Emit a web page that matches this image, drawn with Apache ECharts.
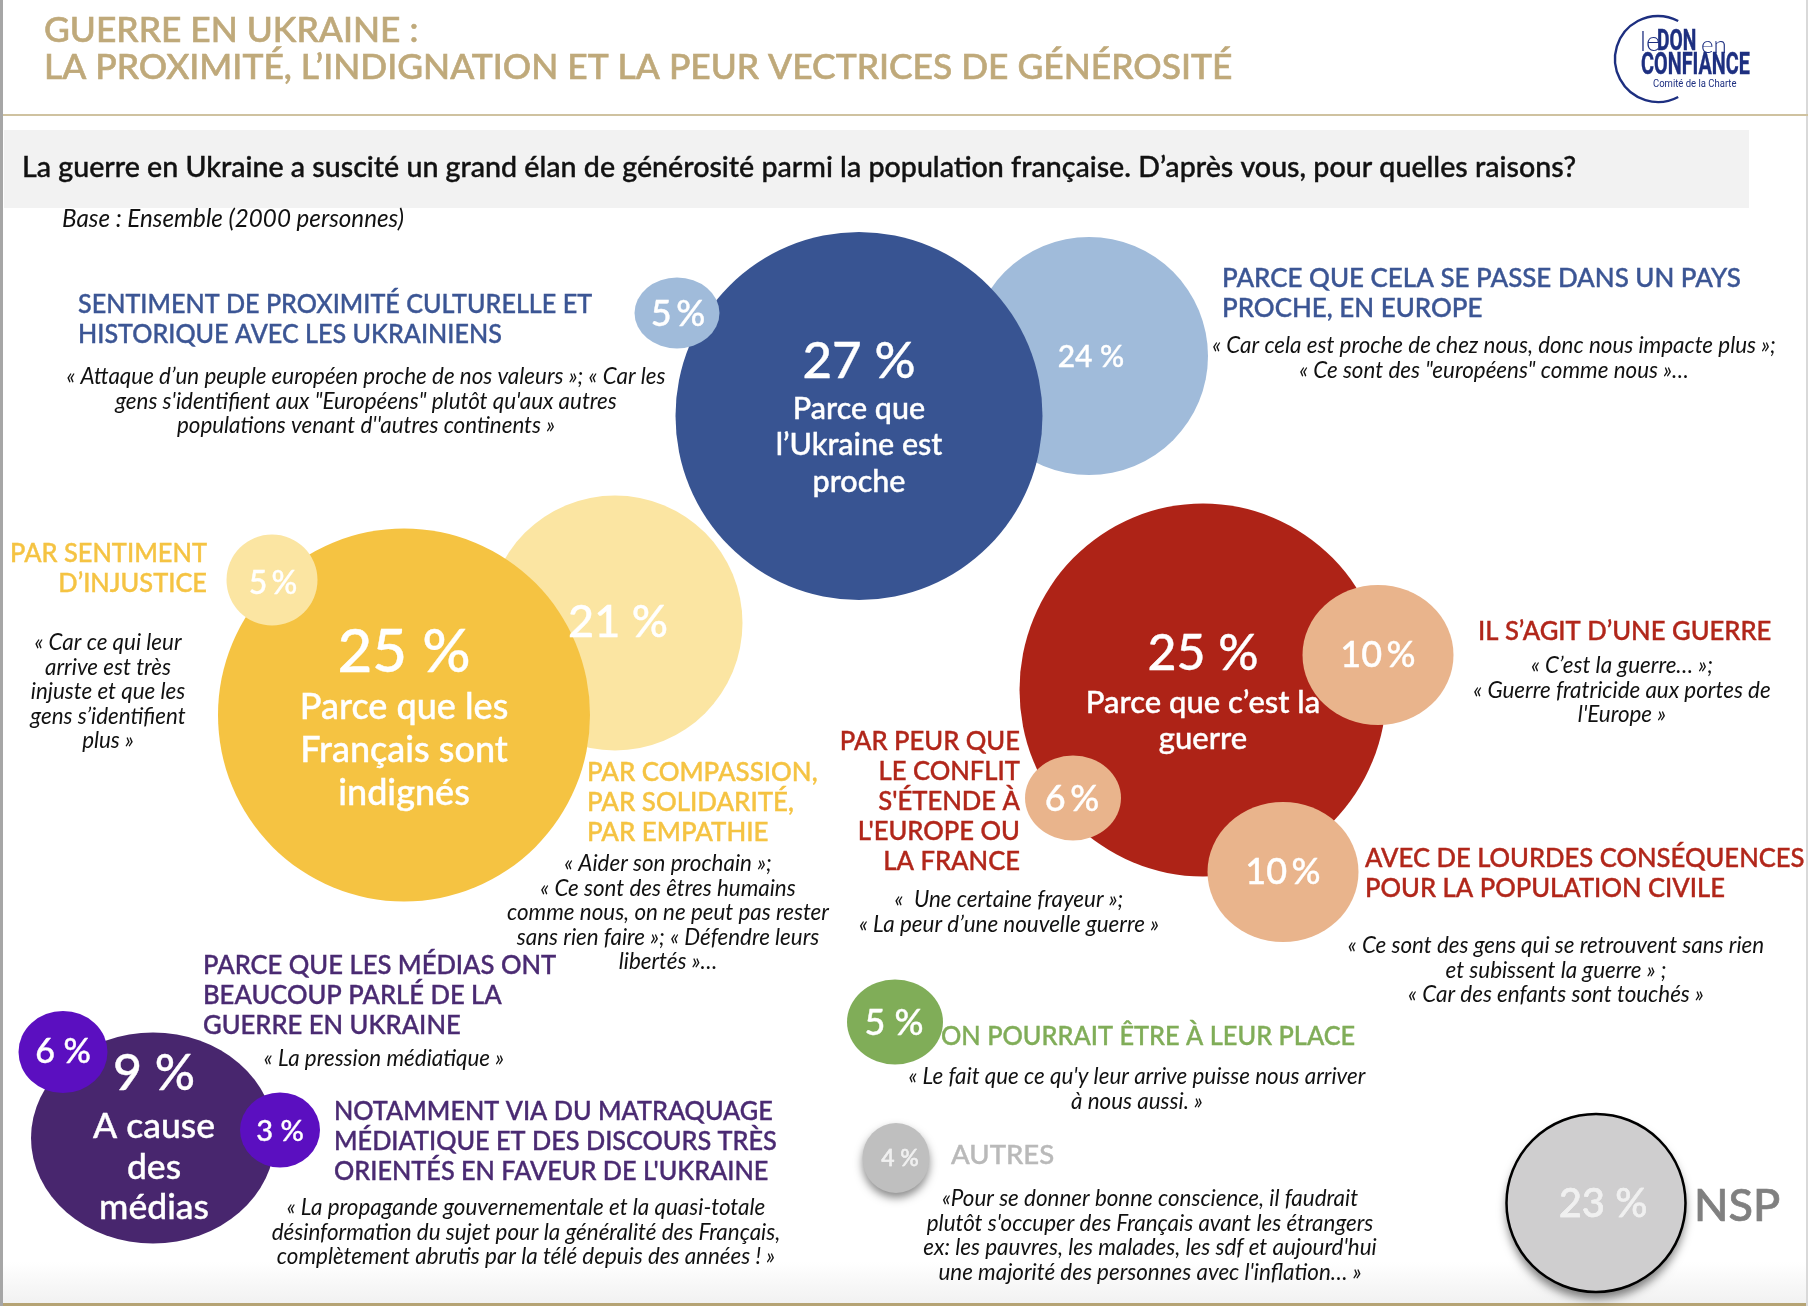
<!DOCTYPE html>
<html>
<head>
<meta charset="utf-8">
<title>Guerre en Ukraine</title>
<script src="https://cdn.jsdelivr.net/npm/echarts@6/dist/echarts.min.js"></script>
<style>
html,body{margin:0;padding:0;background:#fff}
#main{width:1808px;height:1306px}
</style>
</head>
<body>
<div id="main"></div>
<script>
// bubble values, in draw order
var bubbleNames=["Pays proche, en Europe","Parce que l'Ukraine est proche","Proximité culturelle et historique",
	"Compassion, solidarité, empathie","Parce que les Français sont indignés","Sentiment d'injustice",
	"Parce que c'est la guerre","Il s'agit d'une guerre","Peur que le conflit s'étende","Lourdes conséquences",
	"A cause des médias","Les médias ont beaucoup parlé","Matraquage médiatique",
	"On pourrait être à leur place","Autres","NSP"];
var bubbleValues=[24,27,5,21,25,5,25,10,6,10,9,6,3,5,4,23];

// layout of the bubbles, same order: centre x, centre y, width, height
var bubbleX=[1089,859,677,615,404,272,1203,1378,1073,1283,153,63,280,895,896,1596];
var bubbleY=[356,416,313,623,715,580,690,655,798,872,1138,1052,1130,1022,1158,1203];
var bubbleW=[238,367,85,255,372,91,367,151,96,151,244,89,80,96,67,179];
var bubbleH=[238,368,71,255,373,91,373,140,85,140,211,82,75,85,70,178];
var bubbleColors=["#a0bbda","#385492","#a0bbda","#fbe5a2","#f5c342","#fbe5a2","#ae2317","#e9b48c","#e9b48c","#e9b48c",
	"#48266e","#5b0fc0","#5b0fc0","#80ad58","#bfbfbf","#cfcecf"];
// value label: offset from bubble centre, font size, gap before the % sign
var labelDX=[2,0,1,3,0,1,0,0,-1,0,1,0,0,-1,4,7];
var labelDY=[1,-54,1,-1,-62,4,-36,0,1,0,-64,0,2,1,1,1];
var labelSize=[30,51,36,45,60,32,50,36,36,36,50,34,29,36,23,40];
var labelGap=[' ',' ','\u2009',' ',' ','\u2009',' ','\u2009','\u2009','\u2009',' ',' ',' ',' ',' ',' '];

var titleText="GUERRE EN UKRAINE :\nLA PROXIMITÉ, L’INDIGNATION ET LA PEUR VECTRICES DE GÉNÉROSITÉ";
var questionText="La guerre en Ukraine a suscité un grand élan de générosité parmi la population française. D’après vous, pour quelles raisons?";
var baseText="Base : Ensemble (2000 personnes)";

var captions=["Parce que\nl’Ukraine est\nproche","Parce que les\nFrançais sont\nindignés","Parce que c’est la\nguerre","A cause\ndes\nmédias"];
var headings=["SENTIMENT DE PROXIMITÉ CULTURELLE ET\nHISTORIQUE AVEC LES UKRAINIENS",
	"PARCE QUE CELA SE PASSE DANS UN PAYS\nPROCHE, EN EUROPE",
	"PAR SENTIMENT\nD’INJUSTICE",
	"PAR COMPASSION,\nPAR SOLIDARITÉ,\nPAR EMPATHIE",
	"PAR PEUR QUE\nLE CONFLIT\nS'ÉTENDE À\nL'EUROPE OU\nLA FRANCE",
	"IL S’AGIT D’UNE GUERRE",
	"AVEC DE LOURDES CONSÉQUENCES\nPOUR LA POPULATION CIVILE",
	"PARCE QUE LES MÉDIAS ONT\nBEAUCOUP PARLÉ DE LA\nGUERRE EN UKRAINE",
	"NOTAMMENT VIA DU MATRAQUAGE\nMÉDIATIQUE ET DES DISCOURS TRÈS\nORIENTÉS EN FAVEUR DE L'UKRAINE",
	"ON POURRAIT ÊTRE À LEUR PLACE",
	"AUTRES"];
var quotes=["« Attaque d’un peuple européen proche de nos valeurs »; « Car les\ngens s'identifient aux \"Européens\" plutôt qu'aux autres\npopulations venant d''autres continents »",
	"« Car cela est proche de chez nous, donc nous impacte plus »;\n« Ce sont des \"européens\" comme nous »…",
	"« Car ce qui leur\narrive est très\ninjuste et que les\ngens s’identifient\nplus »",
	"« Aider son prochain »;\n« Ce sont des êtres humains\ncomme nous, on ne peut pas rester\nsans rien faire »; « Défendre leurs\nlibertés »…",
	"«  Une certaine frayeur »;\n« La peur d’une nouvelle guerre »",
	"« C’est la guerre… »;\n« Guerre fratricide aux portes de\nl'Europe »",
	"« Ce sont des gens qui se retrouvent sans rien\net subissent la guerre » ;\n« Car des enfants sont touchés »",
	"« La pression médiatique »",
	"« La propagande gouvernementale et la quasi-totale\ndésinformation du sujet pour la généralité des Français,\ncomplètement abrutis par la télé depuis des années ! »",
	"« Le fait que ce qu'y leur arrive puisse nous arriver\nà nous aussi. »",
	"«Pour se donner bonne conscience, il faudrait\nplutôt s'occuper des Français avant les étrangers\nex: les pauvres, les malades, les sdf et aujourd'hui\nune majorité des personnes avec l'inflation… »"];

// layout of the texts: x, y of first line centre, anchor
var captionPos=[[859,409],[404,707],[1203,703],[154,1127]];
var captionStyle=[[30.5,36.5],[36,43],[31,36],[35.5,40.5]];
var headingPos=[[78,304.5,'left'],[1222,278.5,'left'],[207,554,'right'],[587,773,'left'],[1020,742,'right'],[1478,632,'left'],
	[1365,858.5,'left'],[203,965.5,'left'],[334,1111.5,'left'],[941,1037,'left'],[951,1156,'left']];
var headingScale=[0.967,0.998,0.977,0.995,0.985,0.985,0.985,0.984,0.972,0.975,1.06];
var headingColors=["#3b5594","#3b5594","#f5c342","#f5c342","#b1261a","#b1261a","#b1261a","#4a2a72","#4a2a72","#80ad58","#b9b9b9"];
var quotePos=[[366,377],[1494,346],[108,643],[668,864],[1009,900],[1622,666],[1556,946],[384,1059],[526,1208],[1137,1077],[1150,1199]];

var FONT="Lato";

function txt(text,x,y,size,color,align,lh,opt){
	opt=opt||{};
	var style={text:text,fontFamily:opt.font||FONT,fontSize:size,fontWeight:opt.weight||'normal',fontStyle:opt.italic?'italic':'normal',
		fill:color,align:align,verticalAlign:'top',lineHeight:lh};
	if(opt.thick){style.stroke=color;style.lineWidth=opt.thick;}
	return {
		type:'text',x:x,y:y-lh/2,z:20,silent:true,
		scaleX:opt.sx||1,originX:0,originY:0,
		style:style
	};
}

var graphics=[
	{type:'rect',z:0,shape:{x:0,y:1262,width:1808,height:42},style:{fill:new echarts.graphic.LinearGradient(0,0,0,1,[{offset:0,color:'#ffffff'},{offset:1,color:'#f1f1f1'}])}},
	{type:'rect',z:0,shape:{x:0,y:1303,width:1808,height:3},style:{fill:'#b5a374'}},
	{type:'rect',z:0,shape:{x:0,y:0,width:3,height:1306},style:{fill:'#a6a6a6'}},
	{type:'rect',z:0,shape:{x:1806,y:0,width:2,height:1306},style:{fill:'#d9d9d9'}},
	{type:'rect',z:0,shape:{x:3,y:114,width:1805,height:2},style:{fill:'#cfc2a0'}},
	{type:'rect',z:0,shape:{x:4,y:130,width:1745,height:78},style:{fill:'#f2f2f2'}},
	// logo
	{type:'arc',z:20,shape:{cx:1658,cy:59,r:43,startAngle:62*Math.PI/180,endAngle:-62*Math.PI/180,clockwise:true},style:{fill:null,stroke:'#1d2f80',lineWidth:2.4}},
	txt("le",1640,42,27,'#1d2f80','left',28,{font:'Lato',weight:300}),
	txt("DON",1657,42,30,'#1d2f80','left',30,{font:'Roboto',weight:'bold',sx:0.64,thick:0.5}),
	txt("en",1701,45,24,'#1d2f80','left',28,{font:'Lato',weight:300}),
	txt("CONFIANCE",1641,66,31,'#1d2f80','left',32,{font:'Roboto',weight:'bold',sx:0.64,thick:0.4}),
	txt("Comité de la Charte",1653,84,10,'#1d2f80','left',12,{font:'Roboto',sx:0.95}),
	// header texts
	txt(titleText,44,30.5,35.4,'#bfa97a','left',37,{weight:500,thick:0.6}),
	txt(questionText,22,168,28.6,'#111111','left',34,{weight:500,thick:0.4}),
	txt(baseText,62,219,24.2,'#111111','left',26,{italic:true}),
	txt("NSP",1694,1206,45,'#808080','left',50,{weight:500,thick:0.7})
];

captions.forEach(function(c,i){
	graphics.push(txt(c,captionPos[i][0],captionPos[i][1],captionStyle[i][0],'#ffffff','center',captionStyle[i][1],{weight:500,thick:0.4}));
});
headings.forEach(function(h,i){
	graphics.push(txt(h,headingPos[i][0],headingPos[i][1],26,headingColors[i],headingPos[i][2],30,{weight:500,thick:0.4,sx:headingScale[i]}));
});
quotes.forEach(function(q,i){
	graphics.push(txt(q,quotePos[i][0],quotePos[i][1],22.4,'#111111','center',24.5,{italic:true}));
});

var bubbleData=bubbleValues.map(function(v,i){
	var style={color:bubbleColors[i],opacity:1};
	if(i==14){style.shadowBlur=8;style.shadowColor='rgba(0,0,0,0.45)';style.shadowOffsetY=5;}
	if(i==15){style.shadowBlur=10;style.shadowColor='rgba(0,0,0,0.5)';style.shadowOffsetY=7;}
	return {
		name:bubbleNames[i],
		value:[bubbleX[i],bubbleY[i],v],
		symbolSize:[bubbleW[i],bubbleH[i]],
		itemStyle:style,
		label:{show:true,position:'inside',offset:[labelDX[i],labelDY[i]],fontSize:labelSize[i],fontFamily:FONT,fontWeight:500,
			color:i>=14?'#f0f0f0':'#ffffff',formatter:v+labelGap[i]+'%',textBorderColor:'#ffffff',textBorderWidth:0.4}
	};
});

var myChart=echarts.init(document.getElementById('main'));
myChart.setOption({
	animation:false,
	backgroundColor:'#ffffff',
	grid:{left:0,right:0,top:0,bottom:0},
	xAxis:{type:'value',min:0,max:1808,show:false},
	yAxis:{type:'value',min:0,max:1306,inverse:true,show:false},
	series:[{
		type:'scatter',
		silent:true,
		clip:false,
		symbol:'circle',
		data:bubbleData
	},{
		// black outline of the NSP bubble, apart so its shadow stays off the fill
		type:'scatter',
		silent:true,
		clip:false,
		symbol:'circle',
		z:3,
		data:[{value:[bubbleX[15],bubbleY[15]],symbolSize:[bubbleW[15],bubbleH[15]],
			itemStyle:{color:'rgba(0,0,0,0)',borderColor:'#000000',borderWidth:2.5,opacity:1}}]
	}],
	graphic:graphics
});
</script>
</body>
</html>
